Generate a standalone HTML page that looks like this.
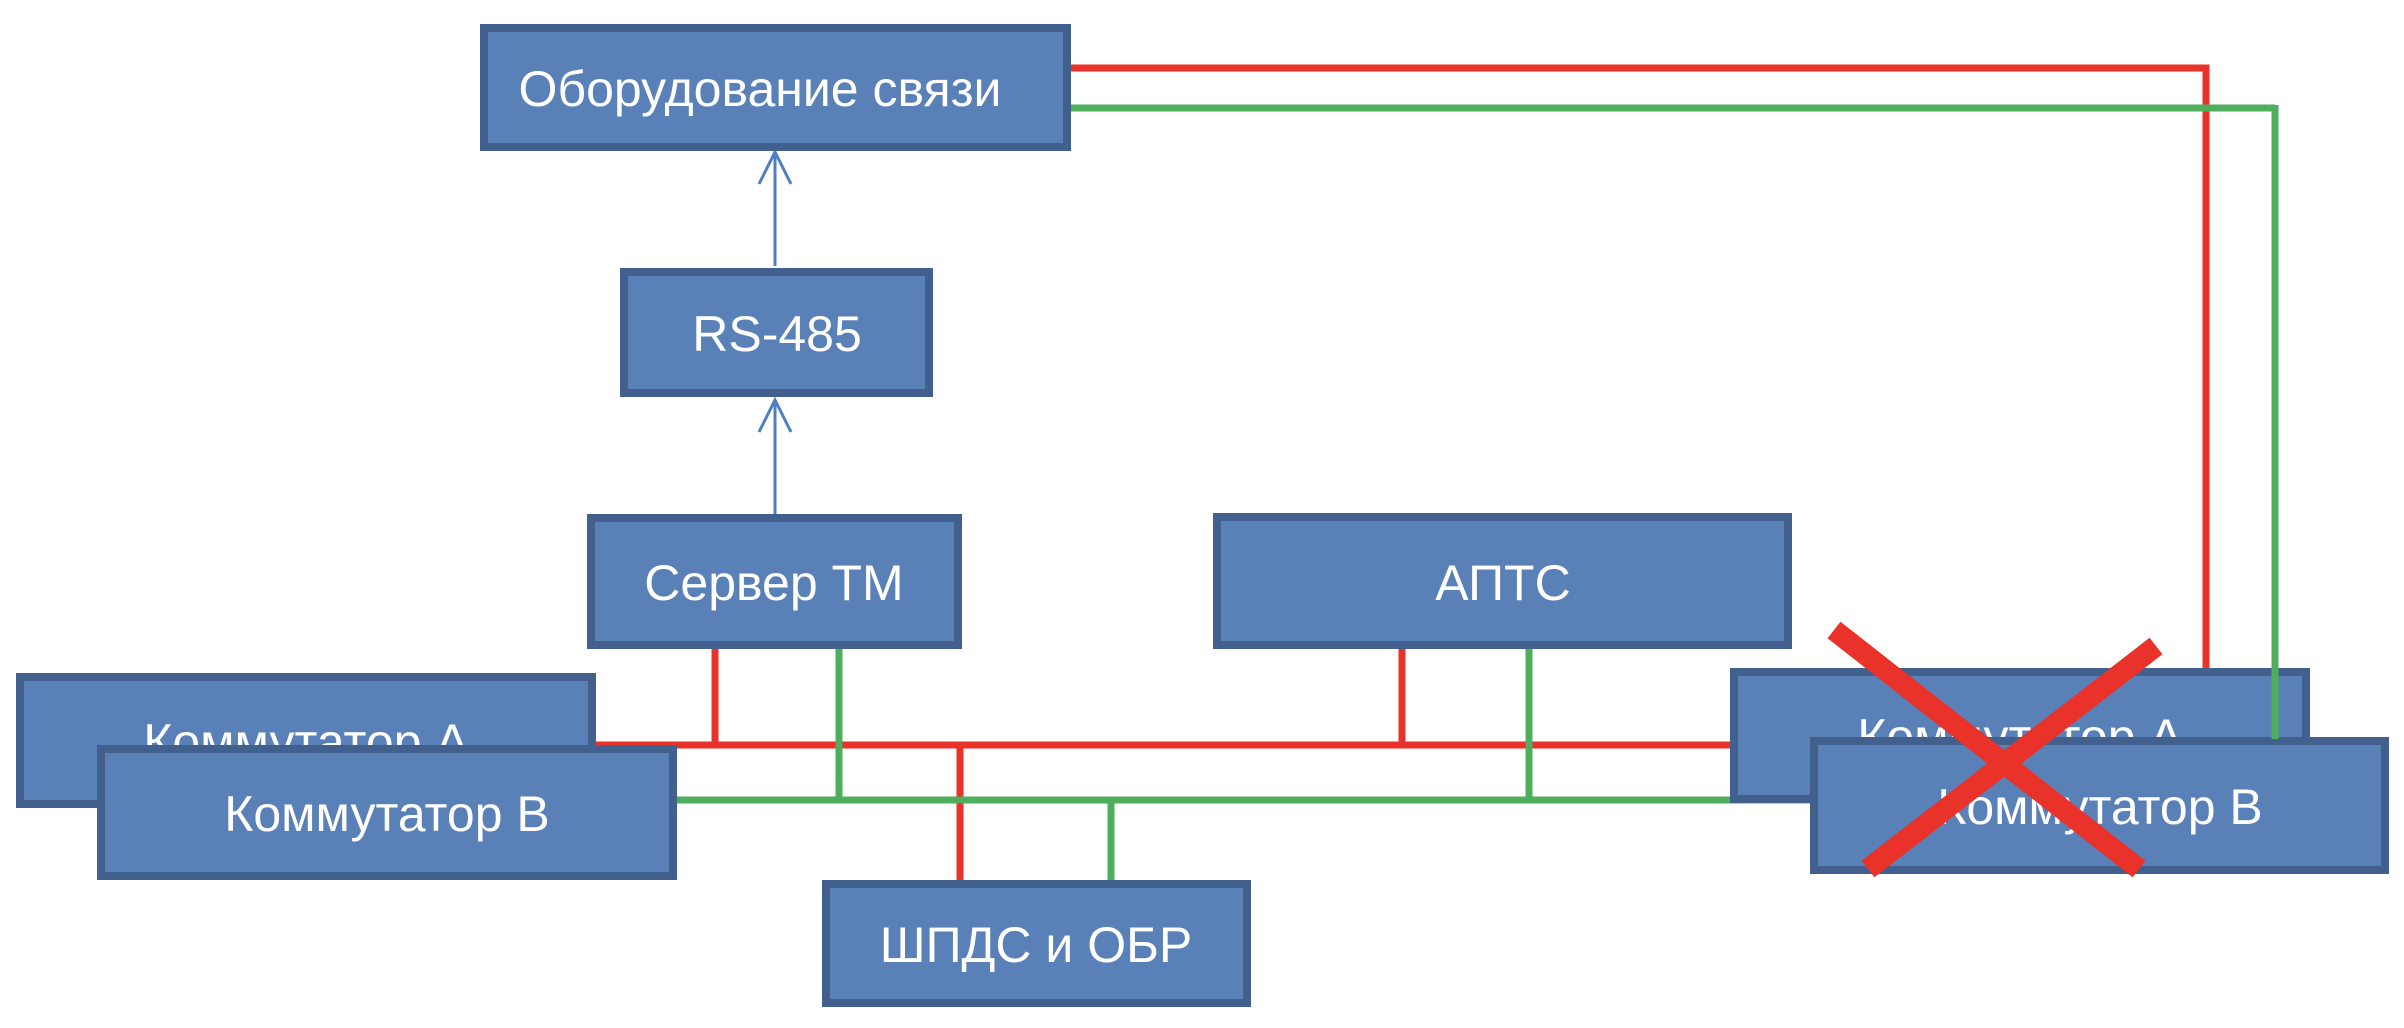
<!DOCTYPE html>
<html><head><meta charset="utf-8"><style>
html,body{margin:0;padding:0;background:#fff;}
svg{display:block}
text{font-family:"Liberation Sans",sans-serif;font-size:50px;fill:#fff;text-anchor:middle;dominant-baseline:central}
.b{fill:#5a80b8;stroke:#41608e;stroke-width:8}
</style></head><body>
<svg width="2404" height="1028" viewBox="0 0 2404 1028" xmlns="http://www.w3.org/2000/svg">
<g fill="none" stroke-width="7">
<polyline stroke="#e8322a" points="1070,68 2206,68 2206,670"/>
<polyline stroke="#4fae5c" points="1070,108 2275,108"/>
<line stroke="#e8322a" x1="595" y1="745" x2="1731" y2="745"/>
<line stroke="#e8322a" x1="715" y1="648" x2="715" y2="745"/>
<line stroke="#e8322a" x1="1402" y1="648" x2="1402" y2="745"/>
<line stroke="#e8322a" x1="960" y1="745" x2="960" y2="881"/>
<line stroke="#4fae5c" x1="676" y1="800" x2="1811" y2="800"/>
<line stroke="#4fae5c" x1="839" y1="648" x2="839" y2="800"/>
<line stroke="#4fae5c" x1="1529" y1="648" x2="1529" y2="800"/>
<line stroke="#4fae5c" x1="1111" y1="800" x2="1111" y2="881"/>
</g>
<g stroke="#4f7fc0" stroke-width="3" fill="none">
<line x1="775" y1="152" x2="775" y2="266"/>
<polyline points="759,184 775,152 791,184"/>
<line x1="775" y1="400" x2="775" y2="515"/>
<polyline points="759,432 775,400 791,432"/>
</g>
<rect class="b" x="484" y="28" width="583" height="119"/><text x="760" y="89">Оборудование связи</text>
<rect class="b" x="624" y="272" width="305" height="121"/><text x="777" y="334">RS-485</text>
<rect class="b" x="591" y="518" width="367" height="127"/><text x="774" y="583">Сервер ТМ</text>
<rect class="b" x="1217" y="517" width="571" height="128"/><text x="1503" y="583">АПТС</text>
<rect class="b" x="826" y="884" width="421" height="119"/><text x="1036" y="945">ШПДС и ОБР</text>
<rect class="b" x="20" y="677" width="572" height="127"/><text x="306" y="742">Коммутатор А</text>
<rect class="b" x="101" y="749" width="572" height="127"/><text x="387" y="814">Коммутатор В</text>
<rect class="b" x="1734" y="672" width="572" height="127"/><text x="2020" y="737">Коммутатор А</text>
<rect class="b" x="1814" y="741" width="571" height="129"/><text x="2100" y="807">Коммутатор В</text>
<line stroke="#4fae5c" stroke-width="7" x1="2275" y1="105" x2="2275" y2="739"/>
<g stroke="#e8322a" stroke-width="21">
<line x1="1834" y1="630" x2="2139" y2="869"/>
<line x1="2156" y1="646" x2="1868" y2="869"/>
</g>
</svg>
</body></html>
